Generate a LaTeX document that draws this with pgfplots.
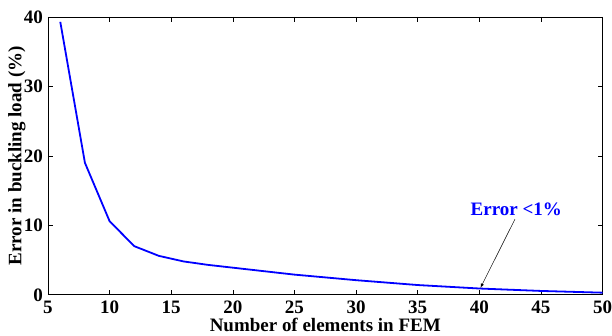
\documentclass[border=0pt]{standalone}
\usepackage{pgfplots}
\pgfplotsset{compat=1.18}
\usepackage{fontspec}
\setmainfont{Liberation Serif}
\begin{document}
\begin{tikzpicture}
\begin{axis}[
  scale only axis,
  width=555pt, height=278pt,
  xmin=5, xmax=50, ymin=0, ymax=40,
  xtick={5,10,...,50}, ytick={0,10,...,40},
  tick align=inside,
  tick pos=both,
  major tick length=5pt,
  axis line style={line width=0.9pt},
  tick style={black, line width=0.6pt},
  /pgf/number format/assume math mode=true,
  ticklabel style={font=\fontsize{19}{19}\selectfont\bfseries, inner sep=0pt},
  xticklabel style={yshift=-6pt},
  yticklabel style={xshift=-5pt, text depth=0pt},
  label style={font=\fontsize{19}{19}\selectfont\bfseries},
  xlabel={Number of elements in FEM},
  ylabel={Error in buckling load (\%)},
  xlabel style={at={(rel axis cs:0.5,0)}, anchor=base, yshift=-37pt},
  ylabel style={at={([xshift=-31pt]rel axis cs:0,0.5)}, anchor=center},
  clip=false,
]
\addplot[blue, line width=1.8pt] coordinates {
(6,39.3) (8,19.0) (10,10.6) (12,7.0) (14,5.6) (16,4.8) (18,4.3) (20,3.9) (25,2.9) (30,2.1) (35,1.4) (40,0.9) (45,0.55) (50,0.3)
};
\node[blue, font=\fontsize{19}{19}\selectfont\bfseries] at (axis cs:43,12.3) {Error <1\%};
\draw[-latex, line width=0.5pt] (axis cs:42.9,10.9) -- (axis cs:40.1,1.0);
\path (rel axis cs:0,1) ++(-48pt,17pt) (rel axis cs:1,0) ++(9pt,-39pt);
\end{axis}
\end{tikzpicture}
\end{document}
